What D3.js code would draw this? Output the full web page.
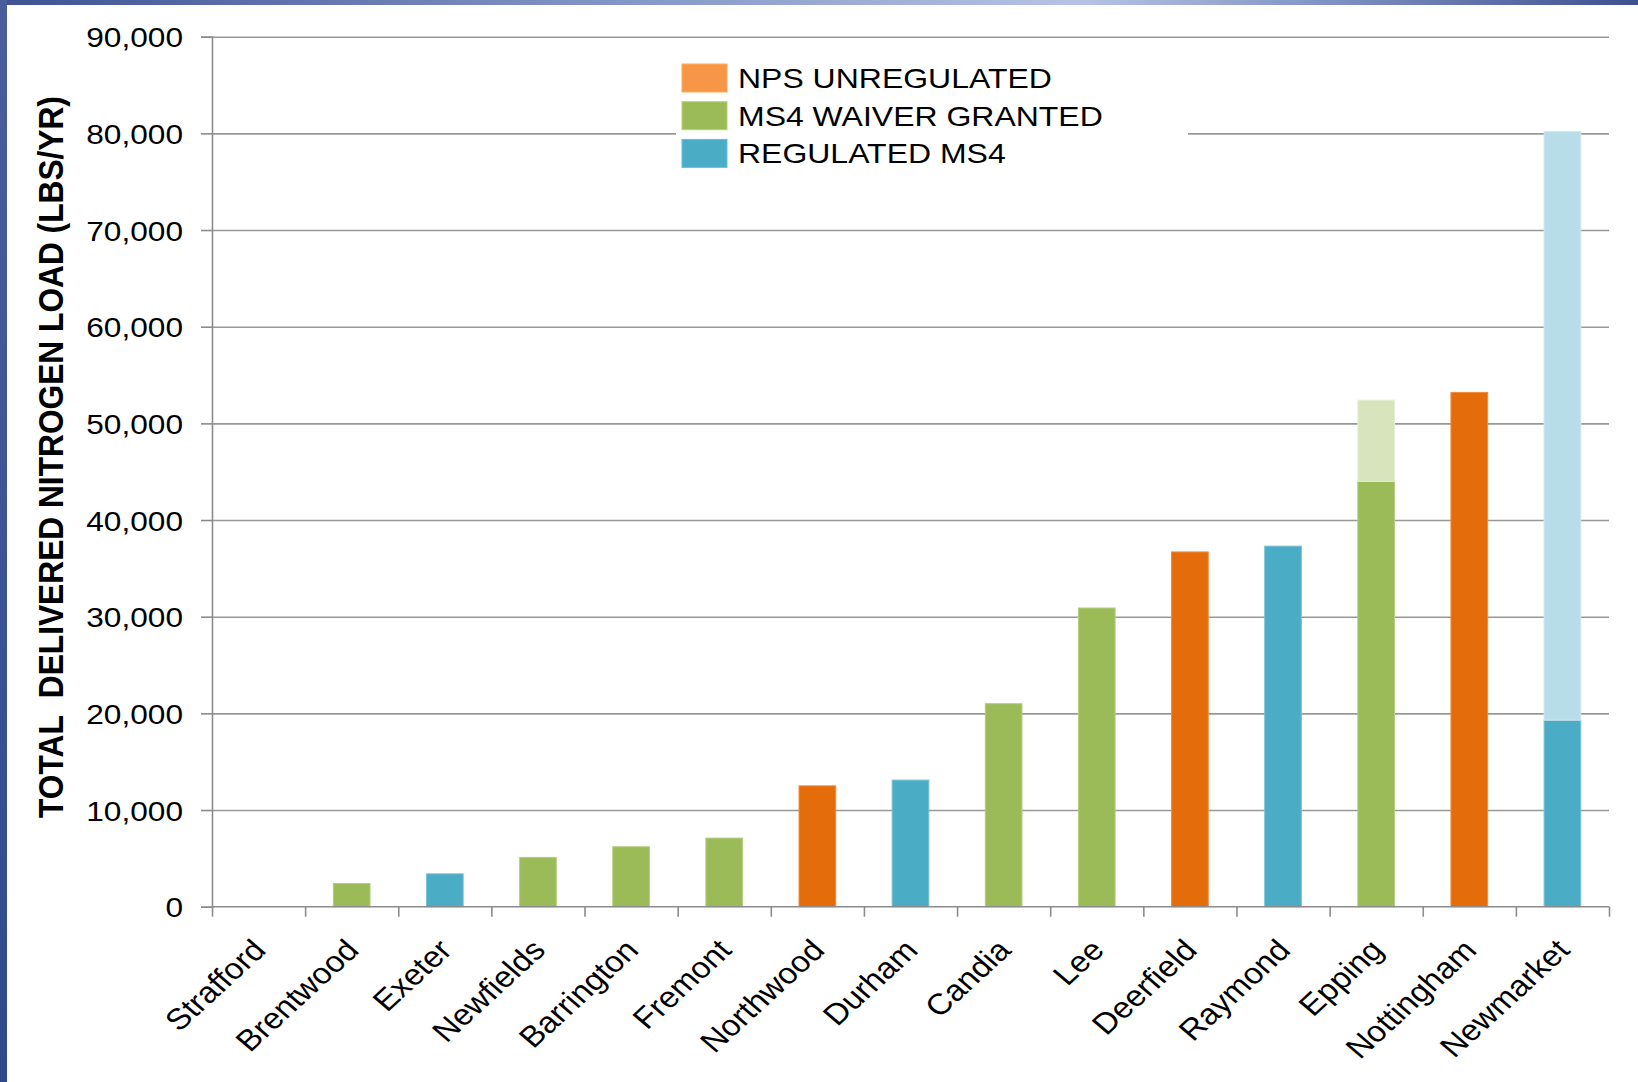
<!DOCTYPE html>
<html>
<head>
<meta charset="utf-8">
<script src="https://cdn.jsdelivr.net/npm/d3@7"></script>
<style>
  html, body { margin: 0; padding: 0; background: #fff; }
  svg { display: block; }
  text { font-family: "Liberation Sans", Arial, sans-serif; fill: #000; }
</style>
</head>
<body>
<svg id="chart" width="1638" height="1082"></svg>
<script>
// ---------- DATA ----------
const categories = ["Strafford","Brentwood","Exeter","Newfields","Barrington","Fremont","Northwood",
  "Durham","Candia","Lee","Deerfield","Raymond","Epping","Nottingham","Newmarket"];
const npsUnregulated   = [0, 0, 0, 0, 0, 0, 12500, 0, 0, 0, 36700, 0, 0, 53200, 0];
const ms4Waiver        = [0, 2400, 0, 5100, 6200, 7100, 0, 0, 21000, 30900, 0, 0, 44000, 0, 0];
const regulatedMs4     = [0, 0, 3400, 0, 0, 0, 0, 13100, 0, 0, 0, 37300, 0, 0, 19300];
const ms4WaiverExtra   = [0, 0, 0, 0, 0, 0, 0, 0, 0, 0, 0, 0, 8400, 0, 0];
const regulatedExtra   = [0, 0, 0, 0, 0, 0, 0, 0, 0, 0, 0, 0, 0, 0, 60900];
const yTicks = [0, 10000, 20000, 30000, 40000, 50000, 60000, 70000, 80000, 90000];
const legendLabels = ["NPS UNREGULATED", "MS4 WAIVER GRANTED", "REGULATED MS4"];
const yTitle = "TOTAL  DELIVERED NITROGEN LOAD (LBS/YR)";

(function () {
// ---------- SETUP ----------
const svg = d3.select("#chart");
const W = 1638, H = 1082;
const pLeft = 212, pRight = 1609, pTop = 36.7, pBottom = 906.7;
const SX = 1.13; // horizontal text stretch

const keys = ["nps", "waiver", "regulated", "waiverExtra", "regulatedExtra"];
const colors = {
  nps: "#E46C0A", waiver: "#9BBB59", regulated: "#4BACC6",
  waiverExtra: "#D8E4BC", regulatedExtra: "#B7DDE8"
};
const strokes = {
  nps: "#F08A3C", waiver: "#B4CE80", regulated: "#78C3D6",
  waiverExtra: "#E6EED5", regulatedExtra: "#CFE8EF"
};
const legendColors = ["#F79646", "#9BBB59", "#4BACC6"];

const rows = categories.map((c, i) => ({
  cat: c, nps: npsUnregulated[i], waiver: ms4Waiver[i], regulated: regulatedMs4[i],
  waiverExtra: ms4WaiverExtra[i], regulatedExtra: regulatedExtra[i]
}));

// frame gradients
const defs = svg.append("defs");
const gTop = defs.append("linearGradient").attr("id", "gtop").attr("x1", "0").attr("x2", "1").attr("y1", "0").attr("y2", "0");
[[0, "#3D5393"], [0.25, "#6E80B6"], [0.66, "#B6C3E6"], [0.8, "#8595C5"], [1, "#3D5190"]]
  .forEach(([o, c]) => gTop.append("stop").attr("offset", o).attr("stop-color", c));
const gLeft = defs.append("linearGradient").attr("id", "gleft").attr("x1", "0").attr("x2", "0").attr("y1", "0").attr("y2", "1");
[[0, "#4A5E9C"], [1, "#2E4A8A"]].forEach(([o, c]) => gLeft.append("stop").attr("offset", o).attr("stop-color", c));

svg.append("rect").attr("width", W).attr("height", H).attr("fill", "#fff");

// scales
const x = d3.scaleBand().domain(categories).range([pLeft, pRight]).paddingInner(0.606).paddingOuter(0.303);
const xEdge = d3.scaleLinear().domain([0, categories.length]).range([pLeft, pRight]);
const y = d3.scaleLinear().domain([0, 90000]).range([pBottom, pTop]);

// gridlines
const grid = svg.append("g").attr("transform", `translate(${pLeft},0)`)
  .call(d3.axisLeft(y).tickValues(yTicks.filter(t => t > 0)).tickSize(-(pRight - pLeft)).tickFormat(""));
grid.select(".domain").remove();
grid.selectAll("line").attr("stroke", "#989898").attr("stroke-width", 1.6);

// bars
const stacked = d3.stack().keys(keys)(rows);
svg.append("g").selectAll("g").data(stacked).join("g")
  .attr("fill", d => colors[d.key]).attr("stroke", d => strokes[d.key]).attr("stroke-width", 1)
  .selectAll("rect").data(d => d.filter(s => s[1] - s[0] > 0)).join("rect")
  .attr("x", d => x(d.data.cat))
  .attr("width", x.bandwidth())
  .attr("y", d => y(d[1]))
  .attr("height", d => y(d[0]) - y(d[1]));

// y axis
const yAxis = svg.append("g").attr("transform", `translate(${pLeft},0)`)
  .call(d3.axisLeft(y).tickValues(yTicks).tickSize(11).tickPadding(0).tickFormat(d3.format(",")));
yAxis.select(".domain").attr("stroke", "#8C8C8C").attr("stroke-width", 1.6);
yAxis.selectAll("line").attr("stroke", "#8C8C8C").attr("stroke-width", 1.6);
yAxis.selectAll("text")
  .attr("x", null).attr("dy", null)
  .attr("transform", `translate(-29,0) scale(${SX},1)`)
  .attr("dy", "0.36em")
  .attr("text-anchor", "end")
  .style("font-size", "28px").style("font-family", "'Liberation Sans', Arial, sans-serif").attr("fill", "#000");

// x axis line + ticks at category edges
const xAxis = svg.append("g").attr("transform", `translate(0,${pBottom})`)
  .call(d3.axisBottom(xEdge).tickValues(d3.range(categories.length + 1)).tickSize(10).tickFormat(""));
xAxis.select(".domain").attr("stroke", "#8C8C8C").attr("stroke-width", 1.6).attr("d", `M${pLeft},0H${pRight}`);
xAxis.selectAll("line").attr("stroke", "#8C8C8C").attr("stroke-width", 1.6);

// x labels
const xLab = svg.append("g").attr("transform", `translate(0,${pBottom})`)
  .call(d3.axisBottom(x).tickSize(0).tickPadding(0));
xLab.select(".domain").remove();
xLab.selectAll("text")
  .attr("y", null).attr("dy", null)
  .attr("text-anchor", "end")
  .attr("transform", `translate(9,45) scale(${SX},1) rotate(-46)`)
  .style("font-size", "29.5px").style("font-family", "'Liberation Sans', Arial, sans-serif").attr("fill", "#000");

// y title
svg.append("text")
  .attr("transform", `translate(50,457) scale(${SX},1) rotate(-90)`)
  .attr("text-anchor", "middle").attr("dy", "0.36em")
  .style("font-size", "31.7px").style("font-weight", "bold")
  .style("white-space", "pre")
  .text(yTitle);

// legend
svg.append("rect").attr("x", 676).attr("y", 55).attr("width", 512).attr("height", 120).attr("fill", "#fff");
const leg = svg.append("g").selectAll("g").data(legendLabels).join("g")
  .attr("transform", (d, i) => `translate(682,${64 + i * 37.7})`);
leg.append("rect").attr("width", 45).attr("height", 28)
  .attr("fill", (d, i) => legendColors[i])
  .attr("stroke", (d, i) => d3.color(legendColors[i]).brighter(0.4)).attr("stroke-width", 1);
leg.append("text")
  .attr("transform", `translate(56,24) scale(${SX},1)`)
  .style("font-size", "28.3px")
  .text(d => d);

// frame borders
svg.append("rect").attr("x", 0).attr("y", 0).attr("width", W).attr("height", 5).attr("fill", "url(#gtop)");
svg.append("rect").attr("x", 0).attr("y", 0).attr("width", 7).attr("height", H).attr("fill", "url(#gleft)");
})();
</script>
</body>
</html>
